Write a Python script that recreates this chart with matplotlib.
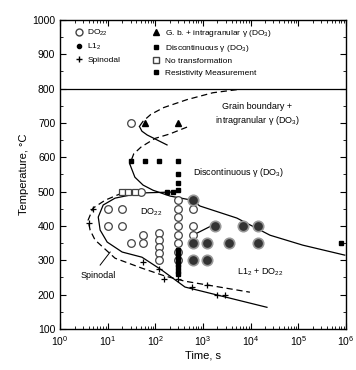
import matplotlib
matplotlib.use('Agg')
import matplotlib.pyplot as plt
from matplotlib.lines import Line2D
from matplotlib.ticker import LogLocator, MultipleLocator, NullFormatter

# ---- data (time in s, temperature in C) ----
do22_t = [30, 50, 10, 20, 10, 20, 30, 55, 55,
          120, 120, 120, 120, 120,
          300, 300, 300, 300, 300, 300, 300, 300,
          600, 600, 600]
do22_T = [700, 500, 450, 450, 400, 400, 350, 375, 350,
          380, 360, 340, 320, 300,
          475, 450, 425, 400, 375, 350, 325, 300,
          450, 400, 375]

l12_t = [600, 1800, 7000, 14000, 600, 1200, 3500, 14000, 600, 1200]
l12_T = [475, 400, 400, 400, 350, 350, 350, 350, 300, 300]

spin_t = [5, 4, 55, 120, 150, 300, 580, 1200, 1950, 2900]
spin_T = [450, 410, 295, 275, 245, 245, 222, 227, 198, 198]

gb_t = [60, 300]
gb_T = [700, 700]

disc_t = [30, 60, 120, 300, 300, 300, 300, 175, 230]
disc_T = [590, 590, 590, 590, 550, 525, 505, 500, 500]

notr_t = [20, 27, 37]
notr_T = [500, 500, 500]

res_t = [8e5, 300, 300, 300, 300, 300, 300, 300, 300]
res_T = [350, 330, 320, 310, 300, 290, 280, 270, 260]

# boundary curves
gb_up_t = [5100, 1600, 460, 150, 80, 55, 46]
gb_up_T = [797, 788, 768, 745, 725, 705, 690]
gb_lo_t = [46, 52, 67, 110, 175]
gb_lo_T = [690, 676, 665, 650, 636]

dc_up_t = [460, 200, 98, 50, 35, 29]
dc_up_T = [688, 668, 655, 630, 610, 580]
dc_lo_t = [29, 37, 55, 89, 203, 585, 860, 5100, 25400, 124000, 940000]
dc_lo_T = [580, 542, 519, 504, 487, 475, 458, 423, 373, 344, 315]

do22_ct = [257, 47.5, 14.2, 8.0, 6.3, 6.9, 9.7, 20, 52, 137, 417, 21900]
do22_cT = [499, 496, 481, 461, 426, 388, 353, 324, 309, 271, 222, 163]

sp_ct = [20, 8.8, 4.9, 3.86, 4.25, 5.4, 14.2, 52, 159, 417, 9600]
sp_cT = [496, 475, 452, 417, 388, 359, 306, 277, 254, 239, 207]

mix_t = [610, 1800]
mix_T = [373, 406]


def main():
    plt.rcParams['font.family'] = ['Liberation Sans', 'DejaVu Sans']
    plt.rcParams['mathtext.fontset'] = 'custom'
    plt.rcParams['mathtext.rm'] = 'Liberation Sans'
    plt.rcParams['mathtext.it'] = 'Liberation Sans:italic'
    plt.rcParams['mathtext.default'] = 'regular'
    fig = plt.figure(figsize=(3.56, 3.70), dpi=100)
    ax = fig.add_axes([0.169, 0.111, 0.803, 0.835])

    lw = 0.9
    ax.plot(gb_up_t, gb_up_T, 'k--', lw=lw, dashes=(5, 3))
    ax.plot(gb_lo_t, gb_lo_T, 'k-', lw=lw)
    ax.plot(dc_up_t, dc_up_T, 'k--', lw=lw, dashes=(5, 3))
    ax.plot(dc_lo_t, dc_lo_T, 'k-', lw=lw)
    ax.plot(do22_ct, do22_cT, 'k-', lw=lw)
    ax.plot(sp_ct, sp_cT, 'k--', lw=lw, dashes=(5, 3))
    ax.plot(mix_t, mix_T, 'k-', lw=lw)

    ax.plot(do22_t, do22_T, 'o', ms=5.5, mfc='white', mec='#444', mew=0.9, ls='none')
    ax.plot(l12_t, l12_T, 'o', ms=7.5, mfc='#333', mec='#999', mew=1.2, ls='none')
    ax.plot(spin_t, spin_T, '+', ms=4.5, color='k', mew=0.9, ls='none')
    ax.plot(gb_t, gb_T, '^', ms=5, color='k', ls='none')
    ax.plot(disc_t, disc_T, 's', ms=3.5, color='k', ls='none')
    ax.plot(notr_t, notr_T, 's', ms=4.5, mfc='white', mec='#444', mew=0.9, ls='none')
    ax.plot(res_t, res_T, 's', ms=2.8, color='k', ls='none')

    ax.axhline(800, color='k', lw=0.9)

    fs = 6.5
    ax.text(13500, 725, 'Grain boundary +\nintragranular \u03b3 (DO$_3$)',
            ha='center', va='center', fontsize=fs, linespacing=1.3)
    ax.text(5400, 557, 'Discontinuous \u03b3 (DO$_3$)', ha='center', va='center', fontsize=fs)
    ax.text(80, 440, 'DO$_{22}$', ha='center', va='center', fontsize=fs)
    ax.text(15600, 265, 'L1$_2$ + DO$_{22}$', ha='center', va='center', fontsize=fs)
    ax.text(6.3, 257, 'Spinodal', ha='center', va='center', fontsize=fs)
    ax.plot([6.9, 11.2], [286, 324], 'k-', lw=0.7)

    # legend, two columns in the band above 800 C
    h1 = [Line2D([], [], marker='o', ms=5, mfc='white', mec='#444', ls='none'),
          Line2D([], [], marker='o', ms=3, color='k', ls='none'),
          Line2D([], [], marker='+', ms=4.5, color='k', ls='none')]
    l1 = ['DO$_{22}$', 'L1$_2$', 'Spinodal']
    h2 = [Line2D([], [], marker='^', ms=4.5, color='k', ls='none'),
          Line2D([], [], marker='s', ms=3.5, color='k', ls='none'),
          Line2D([], [], marker='s', ms=4.5, mfc='white', mec='#444', ls='none'),
          Line2D([], [], marker='s', ms=2.5, color='k', ls='none')]
    l2 = ['G. b. + intragranular \u03b3 (DO$_3$)', 'Discontinuous \u03b3 (DO$_3$)',
          'No transformation', 'Resistivity Measurement']
    kw = dict(frameon=False, fontsize=6, handlelength=1.0, handletextpad=0.5,
              labelspacing=0.45, borderaxespad=0, loc='upper left')
    leg1 = ax.legend(h1, l1, bbox_to_anchor=(0.04, 0.985), **kw)
    ax.add_artist(leg1)
    ax.legend(h2, l2, bbox_to_anchor=(0.31, 0.985), **kw)

    ax.set_xscale('log')
    ax.set_xlim(1, 1e6)
    ax.set_ylim(100, 1000)
    ax.xaxis.set_major_locator(LogLocator(base=10, numticks=10))
    ax.xaxis.set_minor_locator(LogLocator(base=10, subs=range(2, 10), numticks=20))
    ax.xaxis.set_minor_formatter(NullFormatter())
    ax.yaxis.set_major_locator(MultipleLocator(100))
    ax.yaxis.set_minor_locator(MultipleLocator(50))
    ax.tick_params(which='both', direction='in', top=True, right=True, labelsize=7.5)
    ax.tick_params(which='major', length=4, width=0.8)
    ax.tick_params(which='minor', length=2, width=0.6)
    for s in ax.spines.values():
        s.set_linewidth(1.0)

    ax.set_xlabel('Time, s', fontsize=8, labelpad=2)
    ax.set_ylabel('Temperature, \u00b0C', fontsize=8, labelpad=2)

    fig.savefig('out.png', dpi=100)


main()
